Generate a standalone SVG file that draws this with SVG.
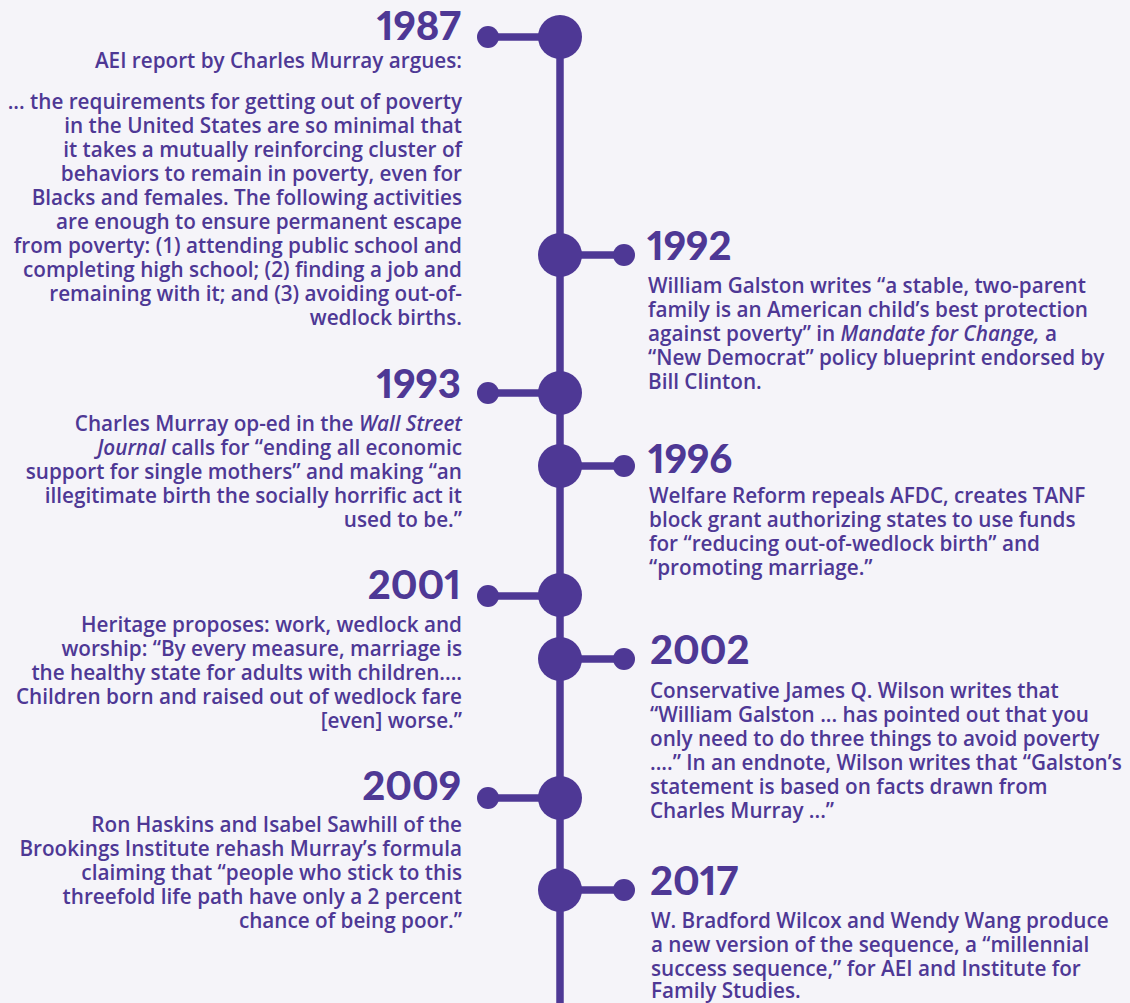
<svg xmlns="http://www.w3.org/2000/svg" width="1130" height="1003" viewBox="0 0 1130 1003">
<style>
.bg{fill:#F5F4F9}
.big{fill:#4E3895}
.small{fill:#4E3895}
.ln{stroke:#4E3895;stroke-width:7.5;fill:none}
.yr{font-family:Lato,"Noto Sans",sans-serif;font-weight:900;font-size:40px;fill:#4E3895;font-variant-numeric:proportional-nums;font-feature-settings:"pnum" 1}
.tx{font-family:"Open Sans","Noto Sans",sans-serif;font-weight:600;font-size:20.7px;fill:#4E3895}
.l{text-anchor:end}
.i{font-style:italic}
</style>
<rect class="bg" x="0" y="0" width="1130" height="1003"/>
<g id="connectors">
<line class="ln" x1="560" y1="37" x2="560" y2="1003"/>
<line class="ln" x1="488" y1="37" x2="560" y2="37"/>
<line class="ln" x1="560" y1="255" x2="624" y2="255"/>
<line class="ln" x1="488" y1="393" x2="560" y2="393"/>
<line class="ln" x1="560" y1="466" x2="624" y2="466"/>
<line class="ln" x1="488" y1="596" x2="560" y2="596"/>
<line class="ln" x1="560" y1="659" x2="624" y2="659"/>
<line class="ln" x1="488" y1="798" x2="560" y2="798"/>
<line class="ln" x1="560" y1="890" x2="624" y2="890"/>
</g>
<g id="n1987">
<circle class="big" cx="560" cy="37" r="22"/>
<circle class="small" cx="488" cy="37" r="11"/>
<text class="yr l" x="461" y="40">1987</text>
<text class="tx l" x="462" y="68">AEI report by Charles Murray argues:</text>
<text class="tx l" x="462" y="109">... the requirements for getting out of poverty</text>
<text class="tx l" x="462" y="133">in the United States are so minimal that</text>
<text class="tx l" x="462" y="157">it takes a mutually reinforcing cluster of</text>
<text class="tx l" x="462" y="181">behaviors to remain in poverty, even for</text>
<text class="tx l" x="462" y="205">Blacks and females. The following activities</text>
<text class="tx l" x="462" y="229">are enough to ensure permanent escape</text>
<text class="tx l" x="462" y="253">from poverty: (1) attending public school and</text>
<text class="tx l" x="462" y="277">completing high school; (2) finding a job and</text>
<text class="tx l" x="462" y="301">remaining with it; and (3) avoiding out-of-</text>
<text class="tx l" x="462" y="325">wedlock births.</text>
</g>
<g id="n1992">
<circle class="big" cx="560" cy="255" r="22"/>
<circle class="small" cx="624" cy="255" r="11"/>
<text class="yr" x="647" y="260">1992</text>
<text class="tx" x="648" y="293">William Galston  writes “a stable, two-parent</text>
<text class="tx" x="648" y="317">family is an American child’s best protection</text>
<text class="tx" x="648" y="341">against poverty” in <tspan class="i">Mandate for Change,</tspan> a</text>
<text class="tx" x="648" y="365">“New Democrat” policy blueprint endorsed by</text>
<text class="tx" x="648" y="389">Bill Clinton.</text>
</g>
<g id="n1993">
<circle class="big" cx="560" cy="393" r="22"/>
<circle class="small" cx="488" cy="393" r="11"/>
<text class="yr l" x="461" y="398">1993</text>
<text class="tx l" x="462" y="431">Charles Murray op-ed in the <tspan class="i">Wall Street</tspan></text>
<text class="tx l" x="462" y="455"><tspan class="i">Journal</tspan> calls for “ending all economic</text>
<text class="tx l" x="462" y="479">support for single mothers” and making “an</text>
<text class="tx l" x="462" y="503">illegitimate birth the socially horrific act it</text>
<text class="tx l" x="462" y="527">used to be.”</text>
</g>
<g id="n1996">
<circle class="big" cx="560" cy="466" r="22"/>
<circle class="small" cx="624" cy="466" r="11"/>
<text class="yr" x="648" y="473">1996</text>
<text class="tx" x="649" y="503">Welfare Reform repeals AFDC, creates TANF</text>
<text class="tx" x="649" y="527">block grant authorizing states to use funds</text>
<text class="tx" x="649" y="551">for “reducing out-of-wedlock birth” and</text>
<text class="tx" x="649" y="575">“promoting marriage.”</text>
</g>
<g id="n2001">
<circle class="big" cx="560" cy="595" r="22"/>
<circle class="small" cx="488" cy="596" r="11"/>
<text class="yr l" x="461" y="599">2001</text>
<text class="tx l" x="462" y="632">Heritage proposes: work, wedlock and</text>
<text class="tx l" x="462" y="656">worship: “By every measure, marriage is</text>
<text class="tx l" x="462" y="680">the healthy state for adults with children....</text>
<text class="tx l" x="462" y="704">Children born and raised out of wedlock fare</text>
<text class="tx l" x="462" y="728">[even] worse.”</text>
</g>
<g id="n2002">
<circle class="big" cx="560" cy="659" r="22"/>
<circle class="small" cx="624" cy="659" r="11"/>
<text class="yr" x="650" y="664">2002</text>
<text class="tx" x="650" y="698">Conservative James Q. Wilson writes  that</text>
<text class="tx" x="650" y="722">“William Galston ... has pointed out that you</text>
<text class="tx" x="650" y="746">only need to do three things to avoid poverty</text>
<text class="tx" x="650" y="770">....” In an endnote, Wilson writes that “Galston’s</text>
<text class="tx" x="650" y="794">statement is based on facts drawn from</text>
<text class="tx" x="650" y="818">Charles Murray ...”</text>
</g>
<g id="n2009">
<circle class="big" cx="560" cy="798" r="22"/>
<circle class="small" cx="488" cy="798" r="11"/>
<text class="yr l" x="461" y="800">2009</text>
<text class="tx l" x="462" y="832">Ron Haskins and Isabel Sawhill of the</text>
<text class="tx l" x="462" y="856">Brookings Institute rehash Murray’s formula</text>
<text class="tx l" x="462" y="880">claiming that “people who stick to this</text>
<text class="tx l" x="462" y="904">threefold life path have only a 2 percent</text>
<text class="tx l" x="462" y="928">chance of being poor.”</text>
</g>
<g id="n2017">
<circle class="big" cx="560" cy="890" r="22"/>
<circle class="small" cx="624" cy="890" r="11"/>
<text class="yr" x="650" y="895">2017</text>
<text class="tx" x="651" y="928">W. Bradford Wilcox and Wendy Wang produce</text>
<text class="tx" x="651" y="952">a new version of the sequence, a “millennial</text>
<text class="tx" x="651" y="976">success sequence,” for AEI and Institute for</text>
<text class="tx" x="651" y="998">Family Studies.</text>
</g>
</svg>
